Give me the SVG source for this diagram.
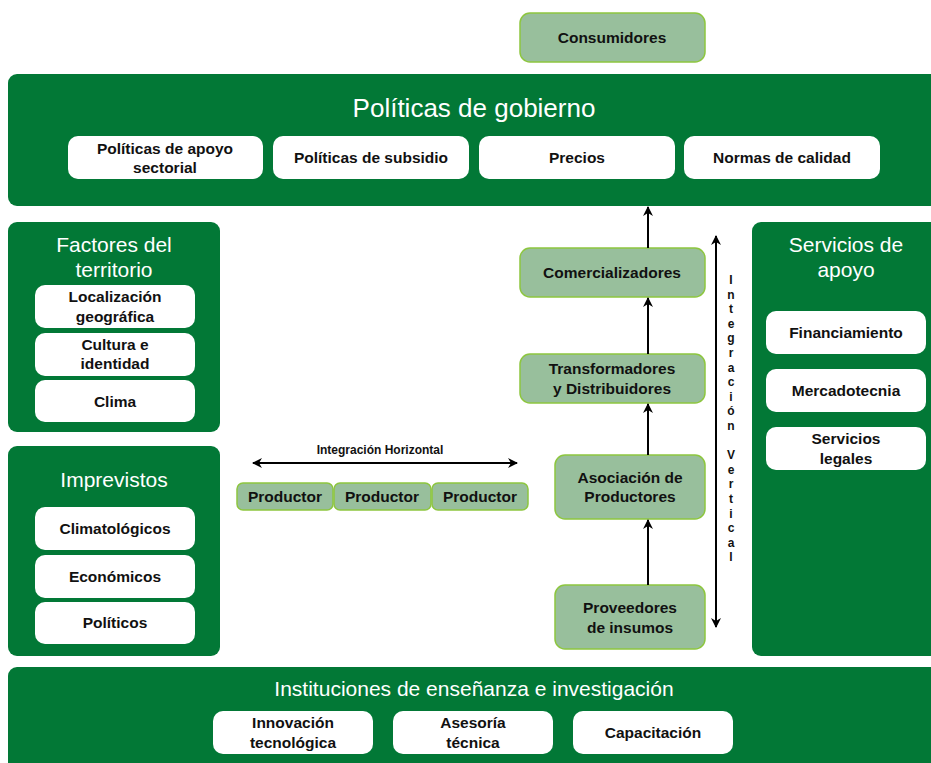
<svg xmlns="http://www.w3.org/2000/svg" width="931" height="763" viewBox="0 0 931 763">
<defs>
<marker id="ah" viewBox="0 0 10 10" refX="9" refY="5" markerWidth="10" markerHeight="10" markerUnits="userSpaceOnUse" orient="auto-start-reverse">
<path d="M0,0 L10,5 L0,10 L3,5 Z" fill="#000"/>
</marker>
<style>
.pan{fill:#027836;}
.wb{fill:#fff;}
.lg{fill:#98bf9c;stroke:#8dc63f;stroke-width:1.5;}
.t{font-family:"Liberation Sans",Arial,sans-serif;text-anchor:middle;}
.ttl{fill:#fff;font-size:21px;}
.big{fill:#fff;font-size:26px;}
.lb{fill:#111;font-size:15.5px;font-weight:bold;}
.sm{fill:#111;font-size:12px;font-weight:bold;}
.ln{stroke:#000;stroke-width:2;fill:none;}
</style>
</defs>
<rect width="931" height="763" fill="#fff"/>

<g id="consumidores">
<rect class="lg" x="520" y="13" width="185" height="49" rx="10"/>
<text class="t lb" x="612" y="43">Consumidores</text>
</g>

<g id="politicas">
<rect class="pan" x="8" y="74" width="935" height="132" rx="9"/>
<text class="t big" x="474" y="117">Políticas de gobierno</text>
<rect class="wb" x="68" y="136" width="195" height="43" rx="10"/>
<text class="t lb" x="165" y="154">Políticas de apoyo</text>
<text class="t lb" x="165" y="173">sectorial</text>
<rect class="wb" x="273" y="136" width="196" height="43" rx="10"/>
<text class="t lb" x="371" y="163">Políticas de subsidio</text>
<rect class="wb" x="479" y="136" width="196" height="43" rx="10"/>
<text class="t lb" x="577" y="163">Precios</text>
<rect class="wb" x="684" y="136" width="196" height="43" rx="10"/>
<text class="t lb" x="782" y="163">Normas de calidad</text>
</g>

<g id="factores">
<rect class="pan" x="8" y="222" width="212" height="210" rx="9"/>
<text class="t ttl" x="114" y="252">Factores del</text>
<text class="t ttl" x="114" y="277">territorio</text>
<rect class="wb" x="35" y="285" width="160" height="43" rx="10"/>
<text class="t lb" x="115" y="302">Localización</text>
<text class="t lb" x="115" y="322">geográfica</text>
<rect class="wb" x="35" y="333" width="160" height="43" rx="10"/>
<text class="t lb" x="115" y="350">Cultura e</text>
<text class="t lb" x="115" y="369">identidad</text>
<rect class="wb" x="35" y="380" width="160" height="42" rx="10"/>
<text class="t lb" x="115" y="407">Clima</text>
</g>

<g id="imprevistos">
<rect class="pan" x="8" y="446" width="212" height="210" rx="9"/>
<text class="t ttl" x="114" y="487">Imprevistos</text>
<rect class="wb" x="35" y="507" width="160" height="43" rx="10"/>
<text class="t lb" x="115" y="534">Climatológicos</text>
<rect class="wb" x="35" y="555" width="160" height="43" rx="10"/>
<text class="t lb" x="115" y="582">Económicos</text>
<rect class="wb" x="35" y="602" width="160" height="42" rx="10"/>
<text class="t lb" x="115" y="628">Políticos</text>
</g>

<g id="servicios">
<rect class="pan" x="752" y="222" width="190" height="434" rx="9"/>
<text class="t ttl" x="846" y="252">Servicios de</text>
<text class="t ttl" x="846" y="277">apoyo</text>
<rect class="wb" x="766" y="311" width="160" height="43" rx="10"/>
<text class="t lb" x="846" y="338">Financiamiento</text>
<rect class="wb" x="766" y="369" width="160" height="43" rx="10"/>
<text class="t lb" x="846" y="396">Mercadotecnia</text>
<rect class="wb" x="766" y="427" width="160" height="43" rx="10"/>
<text class="t lb" x="846" y="444">Servicios</text>
<text class="t lb" x="846" y="464">legales</text>
</g>

<g id="instituciones">
<rect class="pan" x="8" y="667" width="935" height="110" rx="9"/>
<text class="t ttl" x="474" y="696">Instituciones de enseñanza e investigación</text>
<rect class="wb" x="213" y="711" width="160" height="43" rx="10"/>
<text class="t lb" x="293" y="728">Innovación</text>
<text class="t lb" x="293" y="748">tecnológica</text>
<rect class="wb" x="393" y="711" width="160" height="43" rx="10"/>
<text class="t lb" x="473" y="728">Asesoría</text>
<text class="t lb" x="473" y="748">técnica</text>
<rect class="wb" x="573" y="711" width="160" height="43" rx="10"/>
<text class="t lb" x="653" y="738">Capacitación</text>
</g>

<g id="productores">
<rect class="lg" x="237" y="483" width="96" height="27" rx="6"/>
<text class="t lb" x="285" y="502">Productor</text>
<rect class="lg" x="334" y="483" width="97" height="27" rx="6"/>
<text class="t lb" x="382" y="502">Productor</text>
<rect class="lg" x="432" y="483" width="96" height="27" rx="6"/>
<text class="t lb" x="480" y="502">Productor</text>
</g>

<g id="comercializadores">
<rect class="lg" x="520" y="248" width="185" height="49" rx="10"/>
<text class="t lb" x="612" y="278">Comercializadores</text>
</g>
<g id="transformadores">
<rect class="lg" x="520" y="354" width="185" height="49" rx="10"/>
<text class="t lb" x="612" y="374">Transformadores</text>
<text class="t lb" x="612" y="394">y Distribuidores</text>
</g>
<g id="asociacion">
<rect class="lg" x="555" y="455" width="150" height="64" rx="10"/>
<text class="t lb" x="630" y="483">Asociación de</text>
<text class="t lb" x="630" y="502">Productores</text>
</g>
<g id="proveedores">
<rect class="lg" x="555" y="585" width="150" height="64" rx="10"/>
<text class="t lb" x="630" y="613">Proveedores</text>
<text class="t lb" x="630" y="633">de insumos</text>
</g>

<g id="connectors">
<line class="ln" x1="648" y1="248" x2="648" y2="207" marker-end="url(#ah)"/>
<line class="ln" x1="648" y1="354" x2="648" y2="298" marker-end="url(#ah)"/>
<line class="ln" x1="648" y1="455" x2="648" y2="404" marker-end="url(#ah)"/>
<line class="ln" x1="648" y1="585" x2="648" y2="520" marker-end="url(#ah)"/>
<line class="ln" x1="716" y1="236" x2="716" y2="627" marker-start="url(#ah)" marker-end="url(#ah)"/>
<line class="ln" x1="253" y1="463" x2="517" y2="463" marker-start="url(#ah)" marker-end="url(#ah)"/>
<text class="t sm" x="380" y="454">Integración Horizontal</text>
<text class="t sm" x="731" y="284"><tspan x="731">I</tspan><tspan x="731" dy="14.6">n</tspan><tspan x="731" dy="14.6">t</tspan><tspan x="731" dy="14.6">e</tspan><tspan x="731" dy="14.6">g</tspan><tspan x="731" dy="14.6">r</tspan><tspan x="731" dy="14.6">a</tspan><tspan x="731" dy="14.6">c</tspan><tspan x="731" dy="14.6">i</tspan><tspan x="731" dy="14.6">ó</tspan><tspan x="731" dy="14.6">n</tspan><tspan x="731" dy="29.2">V</tspan><tspan x="731" dy="14.6">e</tspan><tspan x="731" dy="14.6">r</tspan><tspan x="731" dy="14.6">t</tspan><tspan x="731" dy="14.6">i</tspan><tspan x="731" dy="14.6">c</tspan><tspan x="731" dy="14.6">a</tspan><tspan x="731" dy="14.6">l</tspan></text>
</g>
</svg>
